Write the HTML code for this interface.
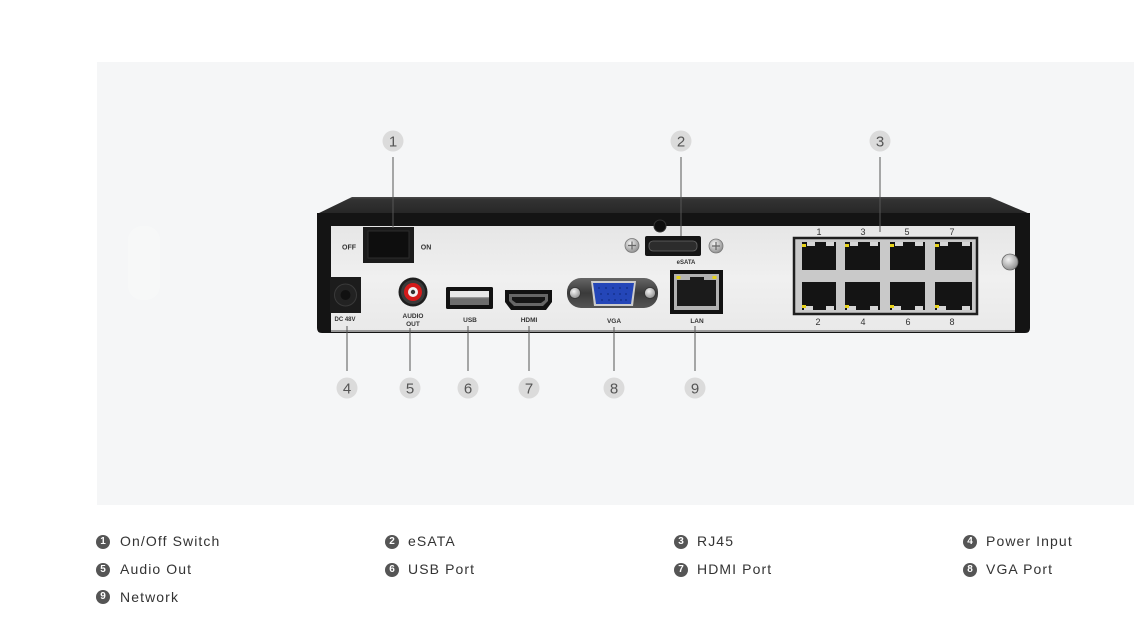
<!DOCTYPE html>
<html><head><meta charset="utf-8"><style>
html,body{margin:0;padding:0;background:#fff;}
body{width:1135px;height:623px;overflow:hidden;position:relative;font-family:"Liberation Sans",sans-serif;}
.leg{position:absolute;font-size:14px;color:#333;letter-spacing:1.1px;line-height:16px;white-space:nowrap;}
.ic{position:absolute;width:14px;height:14px;border-radius:50%;background:#555;color:#fff;font-size:10px;font-weight:bold;text-align:center;line-height:14px;letter-spacing:0;}
</style></head><body>
<svg width="1135" height="623" viewBox="0 0 1135 623" xmlns="http://www.w3.org/2000/svg" style="position:absolute;left:0;top:0">
<defs>
<linearGradient id="top" x1="0" y1="0" x2="0" y2="1"><stop offset="0" stop-color="#4a4a4a"/><stop offset="0.15" stop-color="#333"/><stop offset="1" stop-color="#262626"/></linearGradient>
<linearGradient id="panel" x1="0" y1="0" x2="0" y2="1"><stop offset="0" stop-color="#e6e6e6"/><stop offset="0.5" stop-color="#f0f0f0"/><stop offset="1" stop-color="#e9e9e9"/></linearGradient>
<linearGradient id="vga" x1="0" y1="0" x2="0" y2="1"><stop offset="0" stop-color="#666"/><stop offset="0.5" stop-color="#3a3a3a"/><stop offset="1" stop-color="#555"/></linearGradient>
<radialGradient id="scr" cx="0.4" cy="0.35" r="0.7"><stop offset="0" stop-color="#f4f4f4"/><stop offset="1" stop-color="#8a8a8a"/></radialGradient>
</defs>
<rect x="97" y="62" width="1037" height="443" fill="#f5f6f7"/>
<rect x="128" y="226" width="32" height="74" rx="14" fill="#f7f8f8"/>

<!-- device -->
<polygon points="317,214 352,197 990,197 1030,214" fill="url(#top)"/>
<path d="M317,213 H1030 V328 Q1030,333 1025,333 H322 Q317,333 317,328 Z" fill="#141414"/>
<rect x="331" y="226" width="684" height="105" fill="url(#panel)"/>
<rect x="331" y="330" width="684" height="2" fill="#9a9a9a"/>

<!-- switch -->
<rect x="363" y="227" width="51" height="36" fill="#1b1b1b"/>
<rect x="368" y="231" width="41" height="27" fill="#0e0e0e" stroke="#2c2c2c" stroke-width="1"/>
<g font-family="Liberation Sans, sans-serif" font-weight="bold" fill="#333" text-anchor="middle">
<text x="349" y="249.5" font-size="7">OFF</text>
<text x="426" y="249.5" font-size="7">ON</text>
<text x="345" y="321" font-size="6">DC 48V</text>
<text x="413" y="318" font-size="6.5">AUDIO</text>
<text x="413" y="326" font-size="6.5">OUT</text>
<text x="470" y="322" font-size="6.5">USB</text>
<text x="529" y="322" font-size="6.5">HDMI</text>
<text x="614" y="323" font-size="6.5">VGA</text>
<text x="697" y="323" font-size="6.5">LAN</text>
<text x="686" y="264" font-size="6">eSATA</text>
</g>

<!-- DC jack -->
<rect x="330" y="277" width="31" height="36" fill="#1c1c1c"/>
<circle cx="345.5" cy="295" r="11" fill="#222" stroke="#3a3a3a" stroke-width="1"/>
<circle cx="345.5" cy="295" r="5" fill="#111"/>

<!-- audio -->
<circle cx="413" cy="292" r="14.5" fill="#1e1e1e"/>
<circle cx="413" cy="292" r="12" fill="#3a3a3a"/>
<circle cx="413" cy="292" r="9" fill="#d41a1a"/>
<circle cx="413" cy="292" r="5" fill="#f2f2f2"/>
<circle cx="413" cy="292" r="2.2" fill="#333"/>

<!-- USB -->
<rect x="446" y="287" width="47" height="22" rx="1.5" fill="#111"/>
<rect x="450" y="291" width="39" height="14" fill="#e8e8e8"/>
<rect x="450" y="298" width="39" height="7" fill="#6d6d6d"/>
<rect x="450" y="297" width="39" height="1.2" fill="#999"/>

<!-- HDMI -->
<path d="M505,290 H552 V302 L546,310 H511 L505,302 Z" fill="#111"/>
<path d="M509,294 H548 V301 L543,306 H514 L509,301 Z" fill="#666"/>
<path d="M512,297 H545 V300 L541,303 H516 L512,300 Z" fill="#151515"/>

<!-- VGA -->
<rect x="567" y="278" width="91" height="30" rx="14" fill="url(#vga)"/>
<circle cx="575" cy="293" r="5.5" fill="url(#scr)" stroke="#333" stroke-width="0.8"/>
<circle cx="650" cy="293" r="5.5" fill="url(#scr)" stroke="#333" stroke-width="0.8"/>
<path d="M591,281 H636 L633,306 H594 Z" fill="#ccc"/>
<path d="M593,283 H634 L631,304 H596 Z" fill="#2446b8"/>
<g fill="#173390">
<circle cx="599" cy="288" r="1"/><circle cx="606" cy="288" r="1"/><circle cx="613" cy="288" r="1"/><circle cx="620" cy="288" r="1"/><circle cx="627" cy="288" r="1"/>
<circle cx="601" cy="294" r="1"/><circle cx="608" cy="294" r="1"/><circle cx="614" cy="294" r="1"/><circle cx="620" cy="294" r="1"/><circle cx="626" cy="294" r="1"/>
<circle cx="602" cy="300" r="1"/><circle cx="609" cy="300" r="1"/><circle cx="615" cy="300" r="1"/><circle cx="621" cy="300" r="1"/><circle cx="626" cy="300" r="1"/>
</g>

<!-- LAN -->
<rect x="670" y="270" width="53" height="44" fill="#121212"/>
<rect x="674" y="274" width="45" height="36" fill="#b3b3b3"/>
<path d="M677,280 H690 V277 H704 V280 H716 V306 H677 Z" fill="#1b1b1b"/>
<rect x="676.5" y="276" width="4" height="3" fill="#e6d21a"/>
<rect x="712.5" y="276" width="4" height="3" fill="#e6d21a"/>

<!-- eSATA -->
<circle cx="660" cy="226" r="6" fill="#0e0e0e" stroke="#333" stroke-width="1"/>
<rect x="645" y="236" width="56" height="20" rx="2" fill="#151515"/>
<rect x="649" y="241" width="48" height="10" rx="4" fill="#2c2c2c" stroke="#666" stroke-width="0.8"/>
<circle cx="632" cy="245.5" r="7" fill="url(#scr)" stroke="#777" stroke-width="0.8"/>
<path d="M628,245.5 H636 M632,241.5 V249.5" stroke="#666" stroke-width="1.2"/>
<circle cx="716" cy="246" r="7" fill="url(#scr)" stroke="#777" stroke-width="0.8"/>
<path d="M712,246 H720 M716,242 V250" stroke="#666" stroke-width="1.2"/>

<!-- RJ45 block -->
<rect x="794" y="238" width="183" height="76" fill="#c9c9c9" stroke="#1e1e1e" stroke-width="2.5"/>
<g fill="#141414">
<rect x="802" y="242" width="34" height="28"/><rect x="845" y="242" width="35" height="28"/><rect x="890" y="242" width="35" height="28"/><rect x="935" y="242" width="37" height="28"/>
<rect x="802" y="282" width="34" height="28"/><rect x="845" y="282" width="35" height="28"/><rect x="890" y="282" width="35" height="28"/><rect x="935" y="282" width="37" height="28"/>
</g>
<g fill="#d6d6d6">
<rect x="807" y="242" width="8" height="4"/><rect x="826" y="242" width="8" height="4"/>
<rect x="850" y="242" width="8" height="4"/><rect x="870" y="242" width="8" height="4"/>
<rect x="895" y="242" width="8" height="4"/><rect x="915" y="242" width="8" height="4"/>
<rect x="940" y="242" width="8" height="4"/><rect x="962" y="242" width="8" height="4"/>
<rect x="804" y="306" width="9" height="4"/><rect x="826" y="306" width="8" height="4"/>
<rect x="847" y="306" width="9" height="4"/><rect x="870" y="306" width="8" height="4"/>
<rect x="892" y="306" width="9" height="4"/><rect x="915" y="306" width="8" height="4"/>
<rect x="937" y="306" width="9" height="4"/><rect x="962" y="306" width="8" height="4"/>
</g>
<g fill="#e8d31a">
<rect x="802" y="244" width="4" height="3"/><rect x="845" y="244" width="4" height="3"/><rect x="890" y="244" width="4" height="3"/><rect x="935" y="244" width="4" height="3"/>
<rect x="802" y="305" width="4" height="3"/><rect x="845" y="305" width="4" height="3"/><rect x="890" y="305" width="4" height="3"/><rect x="935" y="305" width="4" height="3"/>
</g>
<g font-family="Liberation Sans, sans-serif" font-size="9" fill="#333" text-anchor="middle">
<text x="819" y="235">1</text><text x="863" y="235">3</text><text x="907" y="235">5</text><text x="952" y="235">7</text>
<text x="818" y="325">2</text><text x="863" y="325">4</text><text x="908" y="325">6</text><text x="952" y="325">8</text>
</g>
<circle cx="1010" cy="262" r="8" fill="url(#scr)" stroke="#666" stroke-width="0.8"/>

<!-- callout lines -->
<g stroke="#555" stroke-width="1">
<line x1="393" y1="157" x2="393" y2="228"/>
<line x1="681" y1="157" x2="681" y2="236"/>
<line x1="880" y1="157" x2="880" y2="232"/>
<line x1="347" y1="326" x2="347" y2="371"/>
<line x1="410" y1="328" x2="410" y2="371"/>
<line x1="468" y1="326" x2="468" y2="371"/>
<line x1="529" y1="326" x2="529" y2="371"/>
<line x1="614" y1="327" x2="614" y2="371"/>
<line x1="695" y1="326" x2="695" y2="371"/>
</g>
<g fill="#dbdbdb">
<circle cx="393" cy="141" r="10.5"/><circle cx="681" cy="141" r="10.5"/><circle cx="880" cy="141" r="10.5"/>
<circle cx="347" cy="388" r="10.5"/><circle cx="410" cy="388" r="10.5"/><circle cx="468" cy="388" r="10.5"/>
<circle cx="529" cy="388" r="10.5"/><circle cx="614" cy="388" r="10.5"/><circle cx="695" cy="388" r="10.5"/>
</g>
<g font-family="Liberation Sans, sans-serif" font-size="15" fill="#555" text-anchor="middle">
<text x="393" y="146.5">1</text><text x="681" y="146.5">2</text><text x="880" y="146.5">3</text>
<text x="347" y="393.5">4</text><text x="410" y="393.5">5</text><text x="468" y="393.5">6</text>
<text x="529" y="393.5">7</text><text x="614" y="393.5">8</text><text x="695" y="393.5">9</text>
</g>
</svg>

<div class="ic" style="left:96px;top:535px">1</div><div class="leg" style="left:120px;top:533px">On/Off Switch</div>
<div class="ic" style="left:385px;top:535px">2</div><div class="leg" style="left:408px;top:533px">eSATA</div>
<div class="ic" style="left:674px;top:535px">3</div><div class="leg" style="left:697px;top:533px">RJ45</div>
<div class="ic" style="left:963px;top:535px">4</div><div class="leg" style="left:986px;top:533px">Power Input</div>
<div class="ic" style="left:96px;top:563px">5</div><div class="leg" style="left:120px;top:561px">Audio Out</div>
<div class="ic" style="left:385px;top:563px">6</div><div class="leg" style="left:408px;top:561px">USB Port</div>
<div class="ic" style="left:674px;top:563px">7</div><div class="leg" style="left:697px;top:561px">HDMI Port</div>
<div class="ic" style="left:963px;top:563px">8</div><div class="leg" style="left:986px;top:561px">VGA Port</div>
<div class="ic" style="left:96px;top:590px">9</div><div class="leg" style="left:120px;top:589px">Network</div>
</body></html>
